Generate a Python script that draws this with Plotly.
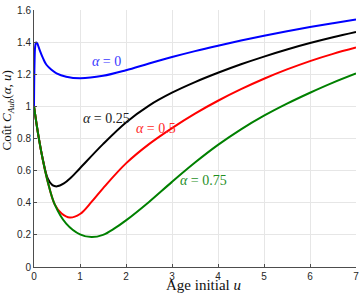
import plotly.graph_objects as go

# Data
u_a0 = [0, 0.01, 0.025, 0.045, 0.07, 0.1, 0.13, 0.2, 0.27, 0.38, 0.49, 0.7, 1.0, 1.5, 2, 2.5, 3, 3.5, 4, 4.5, 5, 5.5, 6, 6.5, 7]
c_a0 = [1.0, 1.25, 1.37, 1.398, 1.392, 1.37, 1.345, 1.297, 1.259, 1.228, 1.206, 1.185, 1.175, 1.19, 1.225, 1.267, 1.307, 1.344, 1.378, 1.41, 1.44, 1.468, 1.494, 1.518, 1.541]

u_a25 = [0, 0.1, 0.2, 0.3, 0.4, 0.5, 0.65, 0.8, 1.0, 1.5, 2, 2.5, 3, 3.5, 4, 4.5, 5, 5.5, 6, 6.5, 7]
c_a25 = [1.0, 0.81, 0.66, 0.55, 0.51, 0.502, 0.52, 0.555, 0.615, 0.765, 0.9, 1.005, 1.085, 1.151, 1.209, 1.262, 1.31, 1.354, 1.394, 1.43, 1.463]

u_a50 = [0, 0.1, 0.2, 0.3, 0.45, 0.6, 0.78, 1.0, 1.25, 1.5, 2, 2.5, 3, 3.5, 4, 4.5, 5, 5.5, 6, 6.5, 7]
c_a50 = [1.0, 0.81, 0.655, 0.53, 0.39, 0.333, 0.308, 0.33, 0.405, 0.49, 0.645, 0.765, 0.865, 0.955, 1.035, 1.107, 1.172, 1.23, 1.282, 1.327, 1.366]

u_a75 = [0, 0.1, 0.2, 0.3, 0.45, 0.7, 1.0, 1.25, 1.5, 1.75, 2, 2.5, 3, 3.5, 4, 4.5, 5, 5.5, 6, 6.5, 7]
c_a75 = [1.0, 0.81, 0.655, 0.53, 0.39, 0.27, 0.203, 0.186, 0.2, 0.24, 0.29, 0.405, 0.53, 0.65, 0.76, 0.857, 0.942, 1.017, 1.085, 1.148, 1.205]

x_ticks = [0, 1, 2, 3, 4, 5, 6, 7]
y_ticks = [0, 0.2, 0.4, 0.6, 0.8, 1.0, 1.2, 1.4, 1.6]
y_tick_text = ["0", "0.2", "0.4", "0.6", "0.8", "1", "1.2", "1.4", "1.6"]

labels = ["<i>α</i> = 0", "<i>α</i> = 0.25", "<i>α</i> = 0.5", "<i>α</i> = 0.75"]
label_u = [1.57, 1.57, 2.65, 3.69]
label_c = [1.28, 0.925, 0.86, 0.54]

colors = ["#0000FF", "#000000", "#FF0000", "#008000"]
label_colors = ["#3a3aff", "#222222", "#ff2a2a", "#1f8f1f"]

fig = go.Figure()
for ux, cy, col in [(u_a0, c_a0, colors[0]), (u_a25, c_a25, colors[1]),
                    (u_a50, c_a50, colors[2]), (u_a75, c_a75, colors[3])]:
    fig.add_trace(go.Scatter(x=ux, y=cy, mode="lines",
                             line=dict(color=col, width=2, shape="spline", smoothing=1.0),
                             showlegend=False, hoverinfo="skip"))

serif = "Liberation Serif, DejaVu Serif, serif"
for t, x, y, c in zip(labels, label_u, label_c, label_colors):
    fig.add_annotation(x=x, y=y, text=t, showarrow=False,
                       font=dict(family=serif, size=14, color=c))

fig.add_annotation(xref="paper", yref="paper", x=-0.083, y=0.61,
                   text="Coût <i>C</i><sub><i>Aub</i></sub>(<i>α</i>, <i>u</i>)",
                   textangle=-90, showarrow=False, xanchor="center", yanchor="middle",
                   font=dict(family=serif, size=13, color="#111111"))

fig.add_annotation(xref="paper", yref="paper", x=0.526, y=-0.071,
                   text="Age initial <i>u</i>", showarrow=False,
                   xanchor="center", yanchor="middle",
                   font=dict(family=serif, size=15, color="#111111"))

fig.update_layout(
    width=363, height=293,
    margin=dict(l=34, r=4, t=8, b=26),
    plot_bgcolor="white", paper_bgcolor="white",
    xaxis=dict(range=[0, 7], tickvals=x_ticks, showgrid=True, gridcolor="#e6e6e6",
               gridwidth=1, zeroline=False, showline=True, linecolor="#4d4d4d",
               linewidth=1, ticks="inside", ticklen=3, tickcolor="#4d4d4d",
               tickfont=dict(family="Liberation Sans, Arial, sans-serif", size=10, color="#262626")),
    yaxis=dict(range=[0, 1.6], tickvals=y_ticks, ticktext=y_tick_text, showgrid=True,
               gridcolor="#e6e6e6", gridwidth=1, zeroline=False, showline=True,
               linecolor="#4d4d4d", linewidth=1, ticks="inside", ticklen=3,
               tickcolor="#4d4d4d",
               tickfont=dict(family="Liberation Sans, Arial, sans-serif", size=10, color="#262626")),
)

fig.write_html("out.html")
